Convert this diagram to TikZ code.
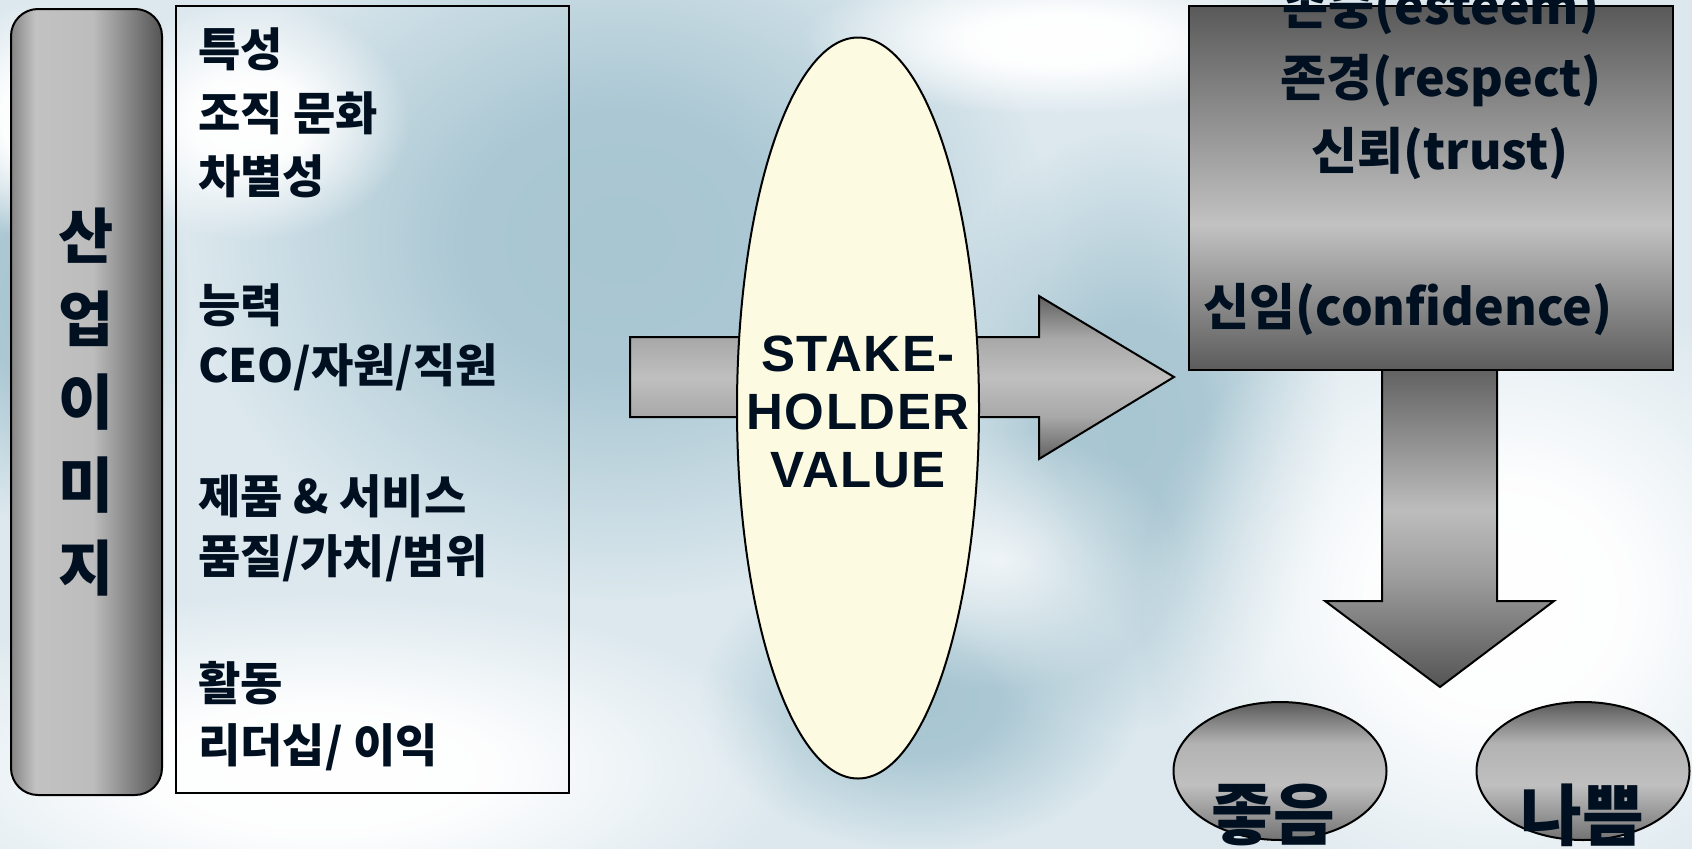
\documentclass[tikz,border=0pt]{standalone}
\usepackage{fontspec}
\newfontfamily\kr{Noto Sans CJK KR}
\newfontfamily\krh{Noto Sans CJK KR Black}
\newfontfamily\stk{Liberation Sans}[LetterSpace=3]
\usetikzlibrary{fadings,shapes.geometric}
\definecolor{bgbase}{HTML}{DCE8EE}
\definecolor{bgblue}{HTML}{A8C6D2}
\definecolor{txt}{HTML}{001020}
\definecolor{cream}{HTML}{FDFAE2}
\pgfdeclareradialshading{blobsh}{\pgfpointorigin}{color(0bp)=(white); color(9bp)=(white!95!black); color(25bp)=(black); color(50bp)=(black)}
\pgfdeclarefading{softblob}{\pgfuseshading{blobsh}}
\pgfdeclareradialshading{blobshsoft}{\pgfpointorigin}{color(0bp)=(white!70!black); color(25bp)=(black); color(50bp)=(black)}
\pgfdeclarefading{softerblob}{\pgfuseshading{blobshsoft}}
\pgfdeclarehorizontalshading{pillarsh}{100bp}{rgb(0bp)=(0.52,0.52,0.52); rgb(25bp)=(0.52,0.52,0.52); rgb(33bp)=(0.76,0.76,0.76); rgb(52bp)=(0.74,0.74,0.74); rgb(75bp)=(0.33,0.33,0.33); rgb(100bp)=(0.33,0.33,0.33)}
\pgfdeclareverticalshading{boxsh}{100bp}{rgb(0bp)=(0.36,0.36,0.36); rgb(25bp)=(0.36,0.36,0.36); rgb(45bp)=(0.76,0.76,0.76); rgb(75bp)=(0.35,0.35,0.35); rgb(100bp)=(0.35,0.35,0.35)}
\pgfdeclareverticalshading{harrsh}{100bp}{rgb(0bp)=(0.38,0.38,0.38); rgb(25bp)=(0.38,0.38,0.38); rgb(38bp)=(0.66,0.66,0.66); rgb(50bp)=(0.75,0.75,0.75); rgb(62bp)=(0.66,0.66,0.66); rgb(75bp)=(0.38,0.38,0.38); rgb(100bp)=(0.38,0.38,0.38)}
\pgfdeclareverticalshading{varrsh}{100bp}{rgb(0bp)=(0.33,0.33,0.33); rgb(25bp)=(0.33,0.33,0.33); rgb(42bp)=(0.62,0.62,0.62); rgb(52bp)=(0.74,0.74,0.74); rgb(75bp)=(0.36,0.36,0.36); rgb(100bp)=(0.36,0.36,0.36)}
\pgfdeclareverticalshading{ovalsh}{100bp}{rgb(0bp)=(0.45,0.45,0.45); rgb(25bp)=(0.45,0.45,0.45); rgb(45bp)=(0.75,0.75,0.75); rgb(60bp)=(0.70,0.70,0.70); rgb(75bp)=(0.35,0.35,0.35); rgb(100bp)=(0.35,0.35,0.35)}
\tikzset{
  blob/.style={path fading=softblob},
  sblob/.style={path fading=softerblob},
  outline/.style={draw=black, line width=2pt},
  lefttext/.style={anchor=west, inner sep=0pt, text=txt, font=\krh\fontsize{46}{56}\selectfont},
  righttext/.style={inner sep=0pt, text=txt, font=\kr\bfseries\fontsize{50}{58}\selectfont},
  bigtext/.style={inner sep=0pt, text=txt, font=\krh\fontsize{67}{70}\selectfont},
}
\begin{document}
\begin{tikzpicture}[x=1pt,y=-1pt]
\useasboundingbox (0,0) rectangle (1692,849);
\clip (0,0) rectangle (1692,849);
% background
\fill[bgbase] (0,0) rectangle (1692,849);
\fill[bgblue, blob] (620,240) ellipse [x radius=430, y radius=360];
\fill[bgblue, blob] (1130,430) ellipse [x radius=210, y radius=300];
\fill[bgblue, blob] (920,700) ellipse [x radius=220, y radius=150];
\fill[bgblue, blob] (40,300) ellipse [x radius=150, y radius=220];
\fill[white, blob] (250,120) ellipse [x radius=160, y radius=120];
\fill[white, blob] (320,770) ellipse [x radius=480, y radius=180];
\fill[white, blob] (1500,600) ellipse [x radius=360, y radius=330];
\fill[white, blob] (1060,40) ellipse [x radius=260, y radius=75];
\fill[white, sblob] (1000,560) ellipse [x radius=180, y radius=130];
\fill[white, blob] (40,120) ellipse [x radius=110, y radius=120];

% left pillar
\node[outline, rounded corners=27pt, shading=pillarsh, minimum width=151pt, minimum height=786pt, inner sep=0pt,
      text=txt, align=center, font=\krh\fontsize{60}{83}\selectfont] (pil) at (86.5,402)
      {산\\업\\이\\미\\지};

% text box
\node[outline, minimum width=393pt, minimum height=787pt, inner sep=0pt] (tb) at (372.5,399.5) {};
\node[lefttext] (l1) at (198,49) {특성};
\node[lefttext] (l2) at (198,113) {조직 문화};
\node[lefttext] (l3) at (198,176) {차별성};
\node[lefttext] (l4) at (198,305) {능력};
\node[lefttext] (l5) at (198,367) {CEO/자원/직원};
\node[lefttext] (l6) at (198,496) {제품 \& 서비스};
\node[lefttext] (l7) at (198,558) {품질/가치/범위};
\node[lefttext] (l8) at (198,683) {활동};
\node[lefttext] (l9) at (198,747) {리더십/ 이익};

% horizontal block arrow
\draw[outline, shading=harrsh] (630,337) -- (1039,337) -- (1039,296) -- (1174,377) -- (1039,459) -- (1039,417) -- (630,417) -- cycle;

% stakeholder ellipse
\node[ellipse, outline, fill=cream, minimum width=242pt, minimum height=741pt, inner sep=0pt] (sv) at (858,408) {};
\node[text=txt, align=center, inner sep=0pt, font=\stk\bfseries\fontsize{51}{58}\selectfont] (svt) at (858,412)
      {STAKE-\\HOLDER\\VALUE};

% down block arrow
\draw[outline, shading=varrsh] (1382,360) -- (1497,360) -- (1497,601) -- (1554,601) -- (1440,687) -- (1325,601) -- (1382,601) -- cycle;

% right box
\node[outline, shading=boxsh, minimum width=484pt, minimum height=364pt, inner sep=0pt] (rb) at (1431,188) {};
\node[righttext] (r1) at (1441,9) {존중(esteem)};
\node[righttext] (r2) at (1441,81) {존경(respect)};
\node[righttext] (r3) at (1440,153) {신뢰(trust)};
\node[righttext] (r4) at (1408,310) {신임(confidence)};

% outcome ovals
\node[ellipse, outline, shading=ovalsh, minimum width=213pt, minimum height=138pt, inner sep=0pt] (good) at (1280,771) {};
\node[ellipse, outline, shading=ovalsh, minimum width=213pt, minimum height=138pt, inner sep=0pt] (bad) at (1583,771) {};
\node[bigtext] (gt) at (1273,815) {좋음};
\node[bigtext] (bt) at (1582,815) {나쁨};
\end{tikzpicture}
\end{document}
